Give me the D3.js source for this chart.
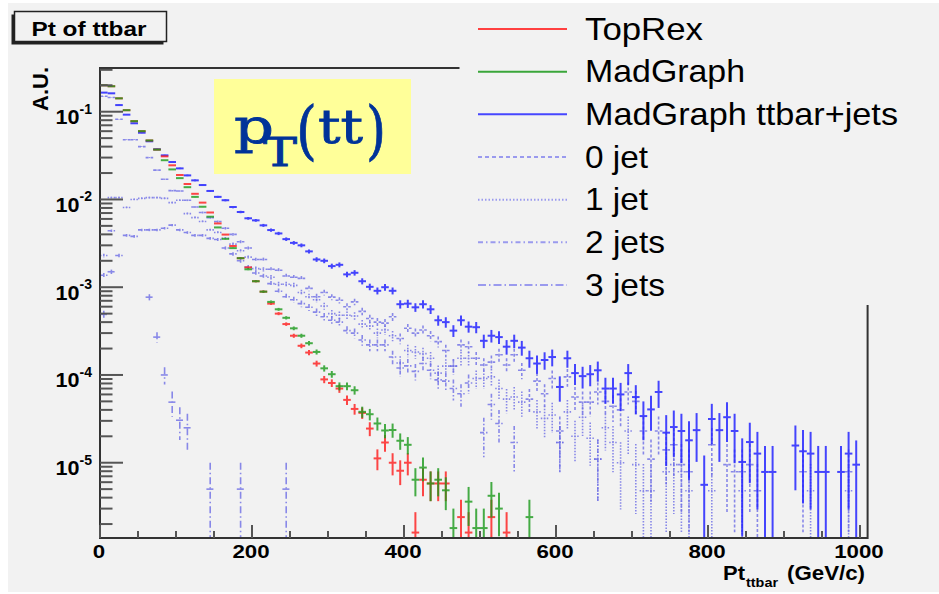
<!DOCTYPE html>
<html><head><meta charset="utf-8">
<script src="https://cdn.jsdelivr.net/npm/d3@7"></script>
<style>body{margin:0;background:#fff}svg{display:block}</style>
</head><body><svg id="c" width="939" height="594"></svg>
<script>
// ---------------- data (one value per 10 GeV bin, null = empty bin) ----------------
const binWidth = 10;
const xTickValues = [0, 200, 400, 600, 800, 1000];
const yDecades = [-1, -2, -3, -4, -5];

const topRex = [
 .2,.195,.142,.104,.078,.06,.047,.037,.031,.0245,
 .019,.015,.0116,.0092,.0071,.00533,.00398,.00295,.00214,.00168,
 .00117,.00089,.00065,.0005,.00038,.00028,.000215,.00018,.000135,8.9e-5,
 8.1e-5,7.0e-5,5.2e-5,4.1e-5,3.7e-5,2.45e-5,1.12e-5,1.7e-5,1.0e-5,8.1e-6,
 1.0e-5,1.6e-6,6.4e-6,5.8e-6,5.8e-6,5.8e-6,null,2.4e-6,1.6e-6,null,
 null,2.4e-6,null,1.6e-6];

const madGraph = [
 .2,.195,.142,.104,.078,.06,.047,.037,.028,.022,
 .0175,.0138,.0107,.00826,.00636,.0048,.00356,.00279,.00214,.0016,
 .00117,.00089,.00068,.00056,.000448,.00034,.00028,.00023,.000183,.000119,
 .000102,7.45e-5,7.45e-5,6.7e-5,3.8e-5,3.57e-5,2.8e-5,2.33e-5,2.36e-5,1.78e-5,
 1.6e-5,6.4e-6,8.8e-6,5.8e-6,6.4e-6,4.85e-6,1.8e-6,null,3.6e-6,1.8e-6,
 1.8e-6,4.2e-6,3.0e-6,null,null,null,2.4e-6];

const ttbarJets = [
 .165,.162,.119,.0925,.0738,.0576,.046,.0373,.0318,.0267,
 .0226,.0188,.0165,.0146,.0125,.0107,.0098,.0082,.0072,.0061,
 .00578,.00507,.00448,.0041,.00353,.0032,.003,.00256,.00207,.002,
 .00174,.0018,.0014,.00146,.00117,.00101,.00091,.001,.00091,.00064,
 .00065,.00059,.00064,.00056,.00042,.0004,.00032,.00042,.000355,.00035,
 .000245,.00028,.00027,.00021,.000245,.000205,.000155,.000135,.000148,.00016,
 7.3e-5,.000155,.000105,9.7e-5,.000102,.000113,7e-5,7e-5,6e-5,.000105,
 5.6e-5,3.4e-5,4.05e-5,6.4e-5,2.2e-5,2.55e-5,2.3e-5,1.8e-5,2.35e-5,5.6e-6,
 3.15e-5,2.35e-5,3.3e-5,2.3e-5,1.02e-5,1.72e-5,1.27e-5,7.85e-6,7.85e-6,null,
 null,1.57e-5,1.35e-5,1.27e-5,7.85e-6,7.85e-6,null,7.85e-6,1.27e-5,9.5e-6];

const jet0 = [
 .15,.145,.082,.048,.048,.04,.03,.0216,.017,.0126,
 .0125,.0098,.0082,.0071,.0062,.0056,.0047,.004,.0033,.0028,
 .00207,.00207,.0016,.00156,.00134,.0013,.00126,.00097,.00078,.00087,
 .00077,.00071,.0006,.00068,.00053,.00044,.0004,.00039,.00046,.00026,
 .00034,.0003,.000325,.00028,.00024,.00019,.000126,.00022,.00021,.000155,
 .00013,.00014,.00017,.00013,.00017,.000113,5.3e-5,8.5e-5,6.1e-5,9.1e-5,
 2.3e-5,9.5e-5,5.6e-5,4.9e-5,4.9e-5,6.4e-5,5e-5,4.4e-5,4e-5,6.4e-5,
 5e-5,2.3e-5,1.1e-5,2.3e-5,1.4e-5,1.6e-5,9.5e-6,7.9e-6,null,null,
 1.6e-5,null,9.5e-6,7.9e-6,7.9e-6,9.5e-6,4.8e-6,null,null,null,
 null,null,7.9e-6,null,null,null,null,null,7.9e-6,null];

const jet1 = [
 .0023,.0105,.0105,.0081,.01,.0103,.0105,.0105,.0103,.0092,
 .0098,.0069,.0062,.0056,.0045,.0042,.0036,.0031,.0026,.0022,
 .00163,.0016,.0013,.00108,.00108,.00105,.00087,.00078,.00072,.00061,
 .0005,.00048,.00048,.00047,.00038,.00036,.0003,.000325,.00028,.000137,
 .00019,.000183,.000175,.000155,.000105,.000126,.000126,.000155,.000155,9.1e-5,
 9.1e-5,9.5e-5,7e-5,5.3e-5,5.6e-5,4.9e-5,null,3.8e-5,3.2e-5,3.5e-5,
 1.7e-5,3.8e-5,2e-5,3.3e-5,1.9e-5,1.1e-5,2.5e-5,1.7e-5,1e-5,2.3e-5,
 9.5e-6,4.8e-6,4.8e-6,null,7.9e-6,9.5e-6,7.9e-6,4.8e-6,null,null,
 4.8e-6,null,null,null,4.8e-6,null,null,null,null,null,
 null,null,null,4.8e-6,null,null,null,null,4.8e-6,null];

const jet2 = [
 .00137,.0044,.0023,.0039,.0038,.0045,.0045,.0045,.0047,.0051,
 .0045,.0042,.0039,.0039,.0036,.0035,.0028,.0024,.002,.0017,
 .00145,.00134,.0011,.0009,.00078,.00072,.00065,.00059,.00052,.00046,
 .00042,.0004,.00032,.0003,.00025,.00022,.00022,.00022,.00016,.00012,
 .000127,.00011,.000135,.000113,8.8e-5,8.5e-5,7e-5,6.1e-5,8.1e-5,null,
 2.2e-5,4.6e-5,2.8e-5,null,1.7e-5,null,null,null,null,null,
 1.7e-5,null,null,null,null,1.1e-5];

const jet3 = [
 .00049,.0015,null,null,null,null,.00077,.00027,.0001,4.9e-5,
 3.05e-5,2.5e-5,null,null,5e-6,null,null,null,5e-6,null,
 null,null,null,null,5e-6];

// ---------------- layout ----------------
const svg = d3.select("#c");
const P = {l:100, r:867.6, t:68, b:538};
const x = d3.scaleLinear().domain([0, 1010]).range([P.l, P.r]);
const y = d3.scaleLog().domain([1.387e-6, 0.3148]).range([P.b, P.t]);

svg.append("rect").attr("width",939).attr("height",594).attr("fill","#fff");
svg.append("rect").attr("x",8).attr("y",3).attr("width",931).attr("height",589).attr("fill","#f2f2f2");

svg.append("clipPath").attr("id","clip").append("rect")
  .attr("x",P.l).attr("y",P.t).attr("width",P.r-P.l).attr("height",P.b-P.t);

function drawSeries(vals, color, width, dash, unit, opacity){
  const pts = vals.map((v,i)=>({v,i})).filter(d=>d.v!=null);
  const g = svg.append("g").attr("clip-path","url(#clip)")
    .attr("stroke",color).attr("stroke-width",width).attr("fill","none").attr("opacity",opacity);
  if(dash) g.attr("stroke-dasharray",dash);
  g.selectAll("line.h").data(pts).join("line").attr("class","h")
    .attr("x1",d=>x(d.i*binWidth)).attr("x2",d=>x(d.i*binWidth+binWidth))
    .attr("y1",d=>y(d.v)).attr("y2",d=>y(d.v));
  g.selectAll("line.v").data(pts).join("line").attr("class","v")
    .attr("x1",d=>x(d.i*binWidth+binWidth/2)).attr("x2",d=>x(d.i*binWidth+binWidth/2))
    .attr("y1",d=>y(d.v+Math.sqrt(d.v*unit)))
    .attr("y2",d=>{const lo=d.v-Math.sqrt(d.v*unit); return lo>1.387e-6? y(lo): P.b+4;});
}

const subCol = "#6e6ee6";
drawSeries(jet3, subCol, 1.6, "7,3,1.5,3", 5e-6, 0.8);
drawSeries(jet2, subCol, 1.6, "4,2,1.5,2", 5e-6, 0.8);
drawSeries(jet1, subCol, 1.6, "1.5,1.5", 5e-6, 0.8);
drawSeries(jet0, subCol, 1.6, "3,2", 5e-6, 0.8);
drawSeries(ttbarJets, "#2626ff", 2, null, 7.5e-6, 0.85);
drawSeries(topRex, "#ff1a1a", 2, null, 8e-7, 0.8);
drawSeries(madGraph, "#1a9a1a", 2, null, 8e-7, 0.8);

// ---------------- frame & axes ----------------
const axG = svg.append("g").attr("stroke","#333").attr("stroke-width",2).attr("fill","none");
axG.append("rect").attr("x",P.l).attr("y",P.t).attr("width",P.r-P.l).attr("height",P.b-P.t);

const tickG = svg.append("g").attr("stroke","#555").attr("stroke-width",2);
yDecades.forEach(k=>{
  tickG.append("line").attr("x1",P.l).attr("x2",P.l+23).attr("y1",y(Math.pow(10,k))).attr("y2",y(Math.pow(10,k)));
});
for(let k=-6;k<=-1;k++){
  for(let m=2;m<=9;m++){
    const v=m*Math.pow(10,k);
    if(v<y.domain()[0]||v>y.domain()[1]) continue;
    tickG.append("line").attr("x1",P.l).attr("x2",P.l+12.5).attr("y1",y(v)).attr("y2",y(v));
  }
}
d3.range(0,1001,50).forEach(v=>{
  const major = v%200===0;
  tickG.append("line").attr("x1",x(v)).attr("x2",x(v)).attr("y1",P.b).attr("y2",P.b-(major?13:7));
});

const bold = "'Liberation Sans', Arial, Helvetica, sans-serif";
yDecades.forEach(k=>{
  const t = svg.append("text").attr("x",55.5).attr("y",y(Math.pow(10,k))+12.5)
    .attr("font-family",bold).attr("font-weight","bold").attr("font-size",20).attr("fill","#000");
  t.append("tspan").text("10").attr("textLength",24).attr("lengthAdjust","spacingAndGlyphs");
  t.append("tspan").attr("dy",-10.5).attr("font-size",14).text(String(k));
});
xTickValues.forEach(v=>{
  const s=String(v);
  svg.append("text").attr("x",x(v)-1).attr("y",557.5).attr("text-anchor","middle")
    .attr("font-family",bold).attr("font-weight","bold").attr("font-size",19).attr("fill","#000")
    .attr("textLength",12.4*s.length).attr("lengthAdjust","spacingAndGlyphs").text(s);
});
svg.append("text").attr("x",723).attr("y",580).attr("font-family",bold).attr("font-weight","bold")
  .attr("font-size",20).attr("textLength",22).attr("lengthAdjust","spacingAndGlyphs").text("Pt");
svg.append("text").attr("x",746).attr("y",587).attr("font-family",bold).attr("font-weight","bold")
  .attr("font-size",13).attr("textLength",32).attr("lengthAdjust","spacingAndGlyphs").text("ttbar");
svg.append("text").attr("x",787).attr("y",580).attr("font-family",bold).attr("font-weight","bold")
  .attr("font-size",20).attr("textLength",78).attr("lengthAdjust","spacingAndGlyphs").text("(GeV/c)");
svg.append("text").attr("transform","translate(48,67) rotate(-90)").attr("text-anchor","end")
  .attr("font-family",bold).attr("font-weight","bold").attr("font-size",22).text("A.U.");

// ---------------- title box ----------------
svg.append("rect").attr("x",11.5).attr("y",14.5).attr("width",152).attr("height",30).attr("fill","#222");
svg.append("rect").attr("x",14.5).attr("y",11.5).attr("width",152).attr("height",30)
  .attr("fill","#f2f2f2").attr("stroke","#222").attr("stroke-width",1.5);
svg.append("text").attr("x",31.5).attr("y",36).attr("font-family",bold).attr("font-weight","bold")
  .attr("font-size",21).attr("textLength",115).attr("lengthAdjust","spacingAndGlyphs").text("Pt of ttbar");

// ---------------- legend ----------------
const legendEntries = [
  {label:"TopRex", color:"#ff4040", dash:null, w:118},
  {label:"MadGraph", color:"#3aa63a", dash:null, w:160},
  {label:"MadGraph ttbar+jets", color:"#4646ff", dash:null, w:313},
  {label:"0 jet", color:"#9a9aee", dash:"4,3", w:63},
  {label:"1 jet", color:"#9a9aee", dash:"1.5,2", w:63},
  {label:"2 jets", color:"#9a9aee", dash:"5,3,1.5,3", w:80},
  {label:"3 jets", color:"#9a9aee", dash:"8,3,1.5,3", w:80}
];
svg.append("rect").attr("x",459.5).attr("y",3).attr("width",480).attr("height",302).attr("fill","#f2f2f2");
legendEntries.forEach((e,i)=>{
  const ly = 29 + i*42.67;
  const ln = svg.append("line").attr("x1",478).attr("x2",567).attr("y1",ly).attr("y2",ly)
    .attr("stroke",e.color).attr("stroke-width",2);
  if(e.dash) ln.attr("stroke-dasharray",e.dash);
  svg.append("text").attr("x",585).attr("y",ly+10.5).attr("font-family",bold).attr("font-size",32)
    .attr("fill","#000").attr("textLength",e.w).attr("lengthAdjust","spacingAndGlyphs").text(e.label);
});

// ---------------- annotation box ----------------
svg.append("rect").attr("x",214).attr("y",79).attr("width",197).attr("height",95).attr("fill","#ffff99");
const serif = "'DejaVu Serif', serif";
const ann = svg.append("g").attr("fill","#003399").attr("stroke","#003399").attr("stroke-width",0.8).attr("font-family",serif);
ann.append("text").attr("x",234).attr("y",143).attr("font-size",48).attr("textLength",40).attr("lengthAdjust","spacingAndGlyphs").text("p");
ann.append("text").attr("x",263).attr("y",166).attr("font-size",40).attr("textLength",34).attr("lengthAdjust","spacingAndGlyphs").text("T");
ann.append("text").attr("x",296).attr("y",152).attr("font-size",64).attr("textLength",21).attr("lengthAdjust","spacingAndGlyphs").text("(");
ann.append("text").attr("x",318).attr("y",143).attr("font-size",46).attr("textLength",45).attr("lengthAdjust","spacingAndGlyphs").text("tt");
ann.append("text").attr("x",366).attr("y",152).attr("font-size",64).attr("textLength",20).attr("lengthAdjust","spacingAndGlyphs").text(")");
</script></body></html>
